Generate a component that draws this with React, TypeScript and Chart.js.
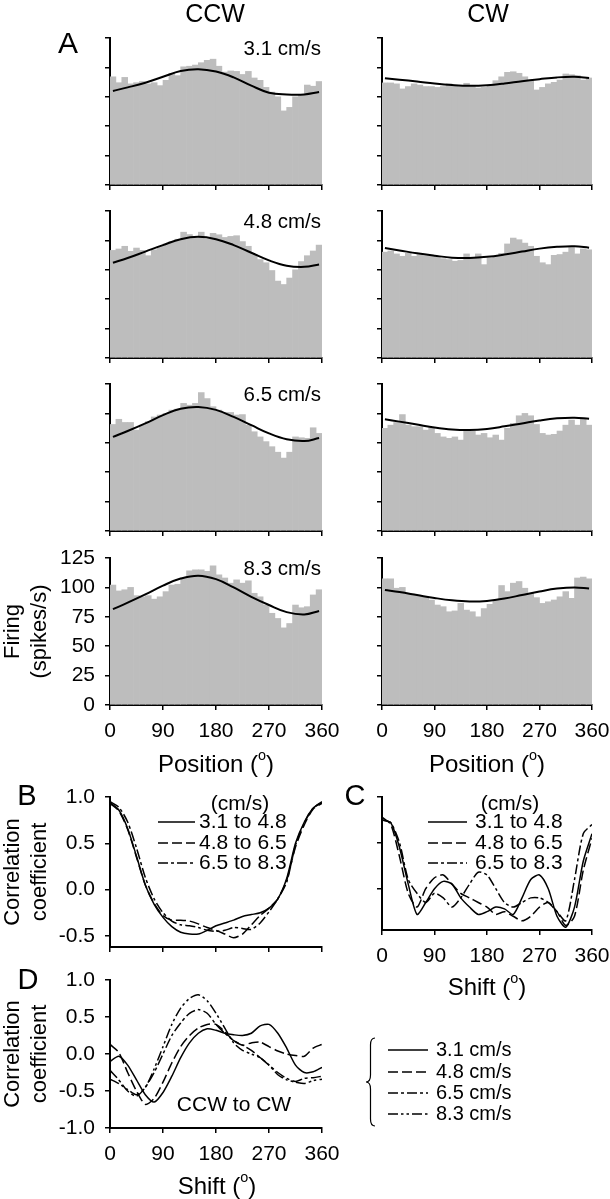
import React, { useEffect, useRef } from 'react';
import { Chart, registerables } from 'chart.js';

Chart.register(...registerables);

const FONT = "'Liberation Sans', Arial, Helvetica, sans-serif";
const CW = 660;
const CH = 1199;

// ---------- Panel A data ----------
const binCenters = [5, 15, 25, 35, 45, 55, 65, 75, 85, 95, 105, 115, 125, 135, 145, 155, 165, 175, 185, 195, 205, 215, 225, 235, 245, 255, 265, 275, 285, 295, 305, 315, 325, 335, 345, 355];
const fitPositions = [5, 30, 60, 90, 120, 150, 180, 210, 240, 270, 300, 330, 355];
const positionTicks = [0, 90, 180, 270, 360];
const firingTicks = [0, 25, 50, 75, 100, 125];
const speedLabels = ['3.1 cm/s', '4.8 cm/s', '6.5 cm/s', '8.3 cm/s'];

const ccw31 = [92, 87, 91.5, 86, 87, 88, 86, 87, 84.5, 89, 95, 93, 100.5, 101, 102, 104, 106, 107, 101, 96, 97, 96.6, 94, 96.6, 91, 89, 83, 79, 75, 63, 66, 75, 77, 85, 84, 88];
const ccw31Fit = [80, 83, 87, 92, 97, 98.5, 96.5, 91.5, 84.5, 78.5, 77, 77, 79];
const cw31 = [86.8, 86.8, 86, 81.7, 83.7, 86, 85, 83.7, 83.7, 83, 83.7, 86, 84.5, 83.7, 86.5, 83.7, 82.5, 83, 84.5, 88.7, 92, 95.8, 96.3, 95, 92, 88.7, 80.8, 83, 86, 87.3, 89.3, 94.4, 93.8, 93, 89.3, 91];
const cw31Fit = [90.7, 89.5, 88, 86.3, 85, 84.3, 84.8, 86.3, 88.3, 90, 91.5, 92, 91];

const ccw48 = [91.5, 92.7, 95, 90.7, 93.5, 91.5, 87, 92, 95, 97, 99, 101, 107, 105, 102, 107, 101.4, 106, 104.8, 102.5, 103.4, 104, 99, 95, 88, 83.7, 81, 74.4, 65.4, 62.5, 68, 75, 82, 87, 91, 96];
const ccw48Fit = [81, 85, 90.5, 96, 101, 103, 101, 96, 89.5, 83, 78.5, 77.5, 79.5];
const cw48 = [90, 91, 88.5, 86.5, 89, 86.5, 88, 87, 86.5, 85.6, 84.5, 83.7, 82.3, 83, 88.5, 85, 88.5, 79.4, 85, 86.5, 89, 97, 102, 100.6, 97.7, 95, 86.5, 81, 79.4, 87.3, 88, 90, 94, 88.5, 92.7, 92];
const cw48Fit = [93.5, 91.5, 89, 87, 85.3, 85, 86, 88, 90.5, 93, 94.5, 95, 93.8];

const ccw65 = [90.6, 95, 92.3, 92.3, 85.8, 90, 93, 97, 98.6, 100, 102.8, 103.7, 108.5, 107, 108.5, 117.8, 112.7, 105.7, 102.8, 100.8, 100.8, 98.6, 99, 90, 84.4, 80, 76, 71.7, 67, 62, 67, 80, 79.3, 78.8, 87.8, 83];
const ccw65Fit = [80, 85, 91.5, 98.5, 104, 105.5, 103, 97, 90, 83, 78, 76.5, 79];
const cw65 = [87.3, 90, 92.3, 99, 90, 88.7, 88.7, 85.8, 87.8, 83, 80, 78.8, 80, 77.3, 85, 85, 81.6, 83, 79.3, 81.6, 77.3, 87.3, 91.5, 98, 100, 98, 90.6, 83, 81.6, 82.2, 85, 90, 94.3, 90, 95, 90];
const cw65Fit = [95, 93, 90.5, 88, 86.3, 85.8, 86.8, 89, 91.5, 94, 95.8, 96.3, 95.5];

const ccw83 = [102, 97, 98, 100, 93, 92, 93, 90, 92, 96.4, 102, 102.7, 108, 114, 115, 115, 113.6, 118.4, 110.7, 108, 103.6, 106.4, 103.6, 105.6, 95, 92, 85, 78, 73.6, 65.6, 69.3, 85, 82.7, 83.6, 93.6, 98];
const ccw83Fit = [81.5, 87, 94, 101.5, 107.5, 110, 107, 100, 92, 85, 79, 77, 80];
const cw83 = [107.3, 107.3, 99.3, 100, 95, 94, 93, 92, 89.3, 85, 83.6, 79.3, 80, 86.4, 80.7, 79.3, 75, 82, 85.6, 89.3, 101.6, 96.4, 103.6, 105, 99.3, 95, 91.3, 86.4, 87.8, 89.3, 92, 96.4, 90.7, 108, 108.7, 107.3];
const cw83Fit = [97.8, 96, 93.5, 91, 89, 88, 88.5, 90.5, 93.5, 96.5, 99, 100, 99];

// ---------- Panels B, C, D data ----------
const shifts = [0, 15, 30, 45, 60, 75, 90, 105, 120, 135, 150, 165, 180, 195, 210, 225, 240, 255, 270, 285, 300, 315, 330, 345, 360];
const shiftTicks = [0, 90, 180, 270, 360];
const corrTicksB = [-0.5, 0, 0.5, 1];
const corrTicksC = [0, 0.5, 1];
const corrTicksD = [-1, -0.5, 0, 0.5, 1];

const bPairLabels = ['3.1 to 4.8', '4.8 to 6.5', '6.5 to 8.3'];
const b31to48 = [0.94, 0.86, 0.66, 0.36, 0.05, -0.16, -0.30, -0.40, -0.46, -0.48, -0.48, -0.44, -0.39, -0.36, -0.33, -0.29, -0.27, -0.25, -0.20, -0.10, 0.12, 0.50, 0.73, 0.88, 0.95];
const b48to65 = [0.93, 0.85, 0.65, 0.35, 0.05, -0.15, -0.28, -0.33, -0.33, -0.34, -0.37, -0.41, -0.44, -0.48, -0.52, -0.48, -0.38, -0.28, -0.20, -0.10, 0.10, 0.46, 0.70, 0.87, 0.93];
const b65to83 = [0.95, 0.89, 0.73, 0.45, 0.13, -0.10, -0.25, -0.34, -0.38, -0.39, -0.41, -0.44, -0.45, -0.44, -0.41, -0.42, -0.43, -0.36, -0.24, -0.10, 0.08, 0.48, 0.72, 0.88, 0.94];

const c31to48 = [0.75, 0.72, 0.45, 0.05, -0.28, -0.15, 0.0, 0.08, 0.05, -0.10, -0.20, -0.28, -0.25, -0.20, -0.22, -0.28, -0.10, 0.10, 0.15, 0.0, -0.30, -0.42, -0.20, 0.30, 0.60];
const c48to65 = [0.78, 0.70, 0.35, -0.05, -0.20, 0.0, 0.12, 0.15, 0.05, -0.05, -0.10, -0.15, -0.20, -0.28, -0.25, -0.30, -0.35, -0.30, -0.20, -0.15, -0.25, -0.40, -0.30, 0.20, 0.55];
const c65to83 = [0.75, 0.72, 0.50, 0.10, -0.05, -0.15, -0.05, -0.10, -0.20, -0.10, 0.05, 0.18, 0.15, 0.0, -0.15, -0.20, -0.15, -0.10, -0.10, -0.15, -0.25, -0.35, 0.10, 0.60, 0.70];

const dSpeedLabels = ['3.1 cm/s', '4.8 cm/s', '6.5 cm/s', '8.3 cm/s'];
const d31 = [-0.10, -0.03, -0.15, -0.35, -0.55, -0.65, -0.52, -0.30, -0.05, 0.15, 0.28, 0.34, 0.32, 0.28, 0.26, 0.25, 0.28, 0.38, 0.40, 0.28, 0.08, -0.15, -0.25, -0.24, -0.18];
const d48 = [0.13, 0.02, -0.25, -0.50, -0.68, -0.60, -0.38, -0.12, 0.10, 0.25, 0.35, 0.40, 0.40, 0.30, 0.18, 0.12, 0.15, 0.16, 0.10, 0.04, 0.0, -0.02, -0.03, 0.08, 0.13];
const d65 = [-0.22, -0.35, -0.50, -0.57, -0.45, -0.25, 0.0, 0.25, 0.42, 0.55, 0.60, 0.55, 0.40, 0.28, 0.18, 0.12, 0.05, -0.05, -0.15, -0.25, -0.33, -0.37, -0.33, -0.32, -0.30];
const d83 = [-0.34, -0.40, -0.48, -0.55, -0.45, -0.20, 0.10, 0.40, 0.62, 0.75, 0.80, 0.72, 0.55, 0.35, 0.15, 0.05, 0.0, -0.05, -0.15, -0.28, -0.35, -0.38, -0.40, -0.36, -0.34];

// ---------- styles ----------
const DASH_SOLID: number[] = [];
const DASH_DASHED = [10, 4];
const DASH_DOT = [10, 3, 3, 3];
const DASH_DOTDOT = [10, 3, 2.5, 3, 2.5, 3];
const BAR_GRAY = '#bdbdbd';

type Run = { t: string; sup?: boolean };
type TextItem = { runs: Run[]; x: number; y: number; size: number; align?: 'left' | 'center' | 'right'; rot?: boolean };
type LegendSpec = { x1: number; x2: number; tx: number; ys: number[]; labels: string[]; dashes: number[][]; size: number };
type BraceSpec = { x: number; y1: number; y2: number };
type Decor = { texts: TextItem[]; legend?: LegendSpec; brace?: BraceSpec };

const txt = (t: string, x: number, y: number, size: number, align: 'left' | 'center' | 'right' = 'center', rot = false): TextItem => ({ runs: [{ t }], x, y, size, align, rot });
const degTitle = (label: string, x: number, y: number, size: number): TextItem => ({ runs: [{ t: label + ' (' }, { t: 'o', sup: true }, { t: ')' }], x, y, size, align: 'center' });

function drawItem(ctx: CanvasRenderingContext2D, item: TextItem) {
  ctx.save();
  ctx.fillStyle = '#000';
  ctx.textBaseline = 'middle';
  ctx.textAlign = 'left';
  const fontFor = (r: Run) => `${r.sup ? item.size * 0.6 : item.size}px ${FONT}`;
  const widths = item.runs.map((r) => {
    ctx.font = fontFor(r);
    return ctx.measureText(r.t).width;
  });
  const total = widths.reduce((a, b) => a + b, 0);
  ctx.translate(item.x, item.y);
  if (item.rot) ctx.rotate(-Math.PI / 2);
  let x = item.align === 'center' ? -total / 2 : item.align === 'right' ? -total : 0;
  item.runs.forEach((r, i) => {
    ctx.font = fontFor(r);
    ctx.fillText(r.t, x, r.sup ? -item.size * 0.36 : 0);
    x += widths[i];
  });
  ctx.restore();
}

function decorPlugin(decor: Decor) {
  return {
    id: 'decor',
    afterDraw(chart: any) {
      const ctx: CanvasRenderingContext2D = chart.ctx;
      decor.texts.forEach((t) => drawItem(ctx, t));
      const lg = decor.legend;
      if (lg) {
        lg.labels.forEach((label, i) => {
          ctx.save();
          ctx.strokeStyle = '#000';
          ctx.lineWidth = 1.6;
          ctx.setLineDash(lg.dashes[i]);
          ctx.beginPath();
          ctx.moveTo(lg.x1, lg.ys[i]);
          ctx.lineTo(lg.x2, lg.ys[i]);
          ctx.stroke();
          ctx.restore();
          drawItem(ctx, txt(label, lg.tx, lg.ys[i], lg.size, 'left'));
        });
      }
      const b = decor.brace;
      if (b) {
        const ym = (b.y1 + b.y2) / 2;
        const w = 9;
        ctx.save();
        ctx.strokeStyle = '#000';
        ctx.lineWidth = 1.2;
        ctx.beginPath();
        ctx.moveTo(b.x + w, b.y1);
        ctx.quadraticCurveTo(b.x + w / 2, b.y1, b.x + w / 2, b.y1 + 7);
        ctx.lineTo(b.x + w / 2, ym - 7);
        ctx.quadraticCurveTo(b.x + w / 2, ym, b.x, ym);
        ctx.quadraticCurveTo(b.x + w / 2, ym, b.x + w / 2, ym + 7);
        ctx.lineTo(b.x + w / 2, b.y2 - 7);
        ctx.quadraticCurveTo(b.x + w / 2, b.y2, b.x + w, b.y2);
        ctx.stroke();
        ctx.restore();
      }
    },
  };
}

type Area = { l: number; t: number; r: number; b: number };
type PanelSpec = {
  type: 'bar' | 'line';
  area: Area;
  xTicks: number[];
  xLabels: boolean;
  yMin: number;
  yMax: number;
  yTicks: number[];
  yLabels: boolean;
  yFmt: (v: number) => string;
  datasets: any[];
  decor: Decor;
};

const Y_BOX = 60;
const X_BOX = 40;

function buildConfig(p: PanelSpec): any {
  const axisCommon = {
    grid: { display: true, drawOnChartArea: false, drawTicks: true, tickLength: 5, color: '#000', lineWidth: 1.5, offset: false },
    border: { display: true, color: '#000', width: 2 },
  };
  return {
    type: p.type,
    data: { datasets: p.datasets },
    options: {
      animation: false,
      responsive: false,
      maintainAspectRatio: false,
      devicePixelRatio: 1,
      events: [],
      layout: { padding: { left: p.area.l - Y_BOX, top: p.area.t, right: CW - p.area.r, bottom: CH - p.area.b - X_BOX } },
      plugins: { legend: { display: false }, tooltip: { enabled: false }, title: { display: false } },
      scales: {
        x: {
          type: 'linear',
          min: 0,
          max: 360,
          offset: false,
          ...axisCommon,
          afterBuildTicks: (s: any) => { s.ticks = p.xTicks.map((v) => ({ value: v })); },
          afterFit: (s: any) => { s.height = X_BOX; },
          ticks: {
            autoSkip: false,
            maxRotation: 0,
            padding: 9,
            color: '#000',
            font: { family: FONT, size: 21 },
            callback: (v: number) => (p.xLabels ? String(v) : ''),
          },
        },
        y: {
          type: 'linear',
          min: p.yMin,
          max: p.yMax,
          ...axisCommon,
          afterBuildTicks: (s: any) => { s.ticks = p.yTicks.map((v) => ({ value: v })); },
          afterFit: (s: any) => { s.width = Y_BOX; },
          ticks: {
            autoSkip: false,
            padding: 10,
            color: '#000',
            font: { family: FONT, size: 21 },
            callback: (v: number) => (p.yLabels ? p.yFmt(v) : ''),
          },
        },
      },
    },
    plugins: [decorPlugin(p.decor)],
  };
}

const CCW_X = { l: 110, r: 322 };
const CW_X = { l: 382, r: 592 };
const ROW_TOPS = [38, 211, 384, 558];
const ROW_H = 147;

const rowData = [
  { ccw: ccw31, ccwFit: ccw31Fit, cw: cw31, cwFit: cw31Fit },
  { ccw: ccw48, ccwFit: ccw48Fit, cw: cw48, cwFit: cw48Fit },
  { ccw: ccw65, ccwFit: ccw65Fit, cw: cw65, cwFit: cw65Fit },
  { ccw: ccw83, ccwFit: ccw83Fit, cw: cw83, cwFit: cw83Fit },
];

function histDatasets(bars: number[], fit: number[]) {
  return [
    {
      type: 'line',
      data: fitPositions.map((x, i) => ({ x, y: fit[i] })),
      borderColor: '#000',
      borderWidth: 2,
      pointRadius: 0,
      tension: 0.4,
      fill: false,
      order: 0,
    },
    {
      type: 'bar',
      data: binCenters.map((x, i) => ({ x, y: bars[i] })),
      backgroundColor: BAR_GRAY,
      borderWidth: 0,
      barPercentage: 1,
      categoryPercentage: 1,
      order: 1,
    },
  ];
}

function corrLine(vals: number[], dash: number[]) {
  return {
    type: 'line',
    data: shifts.map((x, i) => ({ x, y: vals[i] })),
    borderColor: '#000',
    borderWidth: 1.5,
    borderDash: dash,
    pointRadius: 0,
    tension: 0.25,
    fill: false,
  };
}

const fmt1 = (v: number) => v.toFixed(1);

const panels: PanelSpec[] = [];

rowData.forEach((rd, r) => {
  const top = ROW_TOPS[r];
  const bottom = top + ROW_H;
  const last = r === 3;
  const ccwTexts: TextItem[] = [txt(speedLabels[r], 321, top + 11, 20.5, 'right')];
  const cwTexts: TextItem[] = [];
  if (r === 0) {
    ccwTexts.push(txt('CCW', 215, 15, 25));
    ccwTexts.push(txt('A', 68, 45, 30));
    cwTexts.push(txt('CW', 488, 15, 25));
  }
  if (last) {
    ccwTexts.push(txt('Firing', 13, (top + bottom) / 2, 22, 'center', true));
    ccwTexts.push(txt('(spikes/s)', 40, (top + bottom) / 2, 22, 'center', true));
    ccwTexts.push(degTitle('Position', 216, 765, 24));
    cwTexts.push(degTitle('Position', 487, 765, 24));
  }
  panels.push({
    type: 'bar',
    area: { l: CCW_X.l, r: CCW_X.r, t: top, b: bottom },
    xTicks: positionTicks,
    xLabels: last,
    yMin: 0,
    yMax: 125,
    yTicks: firingTicks,
    yLabels: last,
    yFmt: (v) => String(v),
    datasets: histDatasets(rd.ccw, rd.ccwFit),
    decor: { texts: ccwTexts },
  });
  panels.push({
    type: 'bar',
    area: { l: CW_X.l, r: CW_X.r, t: top, b: bottom },
    xTicks: positionTicks,
    xLabels: last,
    yMin: 0,
    yMax: 125,
    yTicks: firingTicks,
    yLabels: false,
    yFmt: (v) => String(v),
    datasets: histDatasets(rd.cw, rd.cwFit),
    decor: { texts: cwTexts },
  });
});

// Panel B
panels.push({
  type: 'line',
  area: { l: 110, r: 322, t: 797, b: 947 },
  xTicks: shiftTicks,
  xLabels: false,
  yMin: -0.62,
  yMax: 1.0,
  yTicks: corrTicksB,
  yLabels: true,
  yFmt: fmt1,
  datasets: [corrLine(b31to48, DASH_SOLID), corrLine(b48to65, DASH_DASHED), corrLine(b65to83, DASH_DOT)],
  decor: {
    texts: [
      txt('B', 27, 797, 29),
      txt('(cm/s)', 240, 804, 21),
      txt('Correlation', 13, 872, 22, 'center', true),
      txt('coefficient', 40, 872, 22, 'center', true),
    ],
    legend: { x1: 158, x2: 195, tx: 199, ys: [822, 843, 863], labels: bPairLabels, dashes: [DASH_SOLID, DASH_DASHED, DASH_DOT], size: 21 },
  },
});

// Panel C
panels.push({
  type: 'line',
  area: { l: 382, r: 592, t: 797, b: 930 },
  xTicks: shiftTicks,
  xLabels: true,
  yMin: -0.45,
  yMax: 1.0,
  yTicks: corrTicksC,
  yLabels: false,
  yFmt: fmt1,
  datasets: [corrLine(c31to48, DASH_SOLID), corrLine(c48to65, DASH_DASHED), corrLine(c65to83, DASH_DOT)],
  decor: {
    texts: [txt('C', 355, 797, 29), txt('(cm/s)', 510, 804, 21), degTitle('Shift', 487, 988, 24)],
    legend: { x1: 428, x2: 467, tx: 475, ys: [822, 843, 863], labels: bPairLabels, dashes: [DASH_SOLID, DASH_DASHED, DASH_DOT], size: 21 },
  },
});

// Panel D
panels.push({
  type: 'line',
  area: { l: 110, r: 322, t: 980, b: 1128 },
  xTicks: shiftTicks,
  xLabels: true,
  yMin: -1,
  yMax: 1,
  yTicks: corrTicksD,
  yLabels: true,
  yFmt: fmt1,
  datasets: [corrLine(d31, DASH_SOLID), corrLine(d48, DASH_DASHED), corrLine(d65, DASH_DOT), corrLine(d83, DASH_DOTDOT)],
  decor: {
    texts: [
      txt('D', 28, 981, 29),
      txt('CCW to CW', 234, 1105, 21),
      txt('Correlation', 13, 1054, 22, 'center', true),
      txt('coefficient', 40, 1054, 22, 'center', true),
      degTitle('Shift', 217, 1187, 24),
    ],
    legend: { x1: 388, x2: 428, tx: 436, ys: [1050, 1072, 1093, 1114], labels: dSpeedLabels, dashes: [DASH_SOLID, DASH_DASHED, DASH_DOT, DASH_DOTDOT], size: 20 },
    brace: { x: 366, y1: 1038, y2: 1126 },
  },
});

function ChartCanvas({ spec }: { spec: PanelSpec }) {
  const ref = useRef<HTMLCanvasElement>(null);
  useEffect(() => {
    if (!ref.current) return;
    const chart = new Chart(ref.current, buildConfig(spec));
    return () => chart.destroy();
  }, [spec]);
  return (
    <canvas
      ref={ref}
      width={CW}
      height={CH}
      style={{ position: 'absolute', left: 0, top: 0, width: CW, height: CH }}
    />
  );
}

export default function App() {
  return (
    <div style={{ position: 'absolute', left: 0, top: 0, width: 610, height: 1199, overflow: 'hidden', background: '#fff' }}>
      {panels.map((p, i) => (
        <ChartCanvas key={i} spec={p} />
      ))}
    </div>
  );
}
